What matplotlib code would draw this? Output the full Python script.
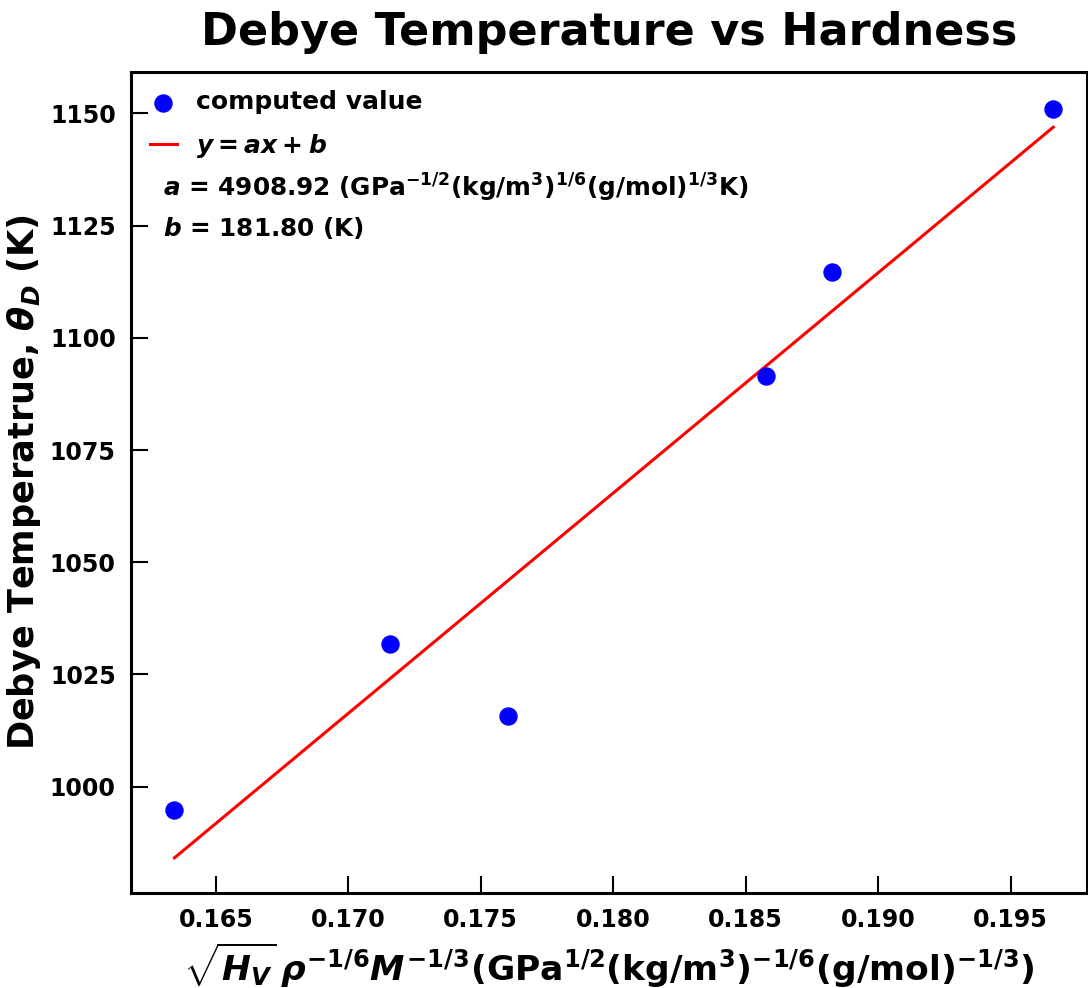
import numpy as np
import matplotlib
matplotlib.use("Agg")
import matplotlib.pyplot as plt

# values
x_val = [0.16344, 0.17158, 0.17602, 0.18577, 0.18826, 0.19661]
theta_d = [994.7, 1031.7, 1015.8, 1091.6, 1114.7, 1150.9]

# fit parameters shown on the chart
a_fit = 4908.92
b_fit = 181.80

y_ticks = [1000, 1025, 1050, 1075, 1100, 1125, 1150]
x_ticks = [0.165, 0.170, 0.175, 0.180, 0.185, 0.190, 0.195]

plt.rcParams['font.family'] = 'DejaVu Sans'
plt.rcParams['font.weight'] = 'bold'
plt.rcParams['mathtext.fontset'] = 'custom'
plt.rcParams['mathtext.rm'] = 'DejaVu Sans:bold'
plt.rcParams['mathtext.it'] = 'DejaVu Sans:italic:bold'
plt.rcParams['mathtext.bf'] = 'DejaVu Sans:bold'

fig = plt.figure(figsize=(10.88, 9.88), dpi=100)
ax = fig.add_axes([0.1204, 0.0962, 0.8786, 0.8312])

x = np.array(x_val)
y_line = a_fit * x + b_fit

ax.scatter(x, theta_d, s=150, color='blue', label='computed value', zorder=3)
ax.plot(x, y_line, color='red', lw=2.2, label=r'$y = ax + b$')

ax.text(0.0335, 0.858,
        r'$a$ = 4908.92 (GPa$^{-1/2}$(kg/m$^3$)$^{1/6}$(g/mol)$^{1/3}$K)',
        transform=ax.transAxes, fontsize=17.8, va='center')
ax.text(0.0335, 0.81, r'$b$ = 181.80 (K)',
        transform=ax.transAxes, fontsize=17.8, va='center')

ax.set_xlim(0.1618, 0.19788)
ax.set_ylim(976.3, 1159.3)
ax.set_xticks(x_ticks)
ax.set_yticks(y_ticks)
ax.set_xticklabels(['%.3f' % t for t in x_ticks])
ax.tick_params(direction='in', length=12, width=1.5, labelsize=17, pad=11)
for s in ax.spines.values():
    s.set_linewidth(2.2)

ax.set_title('Debye Temperature vs Hardness', fontsize=32, fontweight='bold', pad=19)
ax.set_ylabel(r'Debye Temperatrue, $\theta_D$ (K)', fontsize=25.3, fontweight='bold', labelpad=5)
ax.set_xlabel(r'$\sqrt{H_V}\,\rho^{-1/6}M^{-1/3}$(GPa$^{1/2}$(kg/m$^3$)$^{-1/6}$(g/mol)$^{-1/3}$)',
              fontsize=24.8, fontweight='bold', labelpad=6)

ax.legend(loc='upper left', frameon=False, fontsize=18, handlelength=1.1,
          borderaxespad=0.35, labelspacing=0.7, handletextpad=0.75)

fig.savefig('out.png', dpi=100)
